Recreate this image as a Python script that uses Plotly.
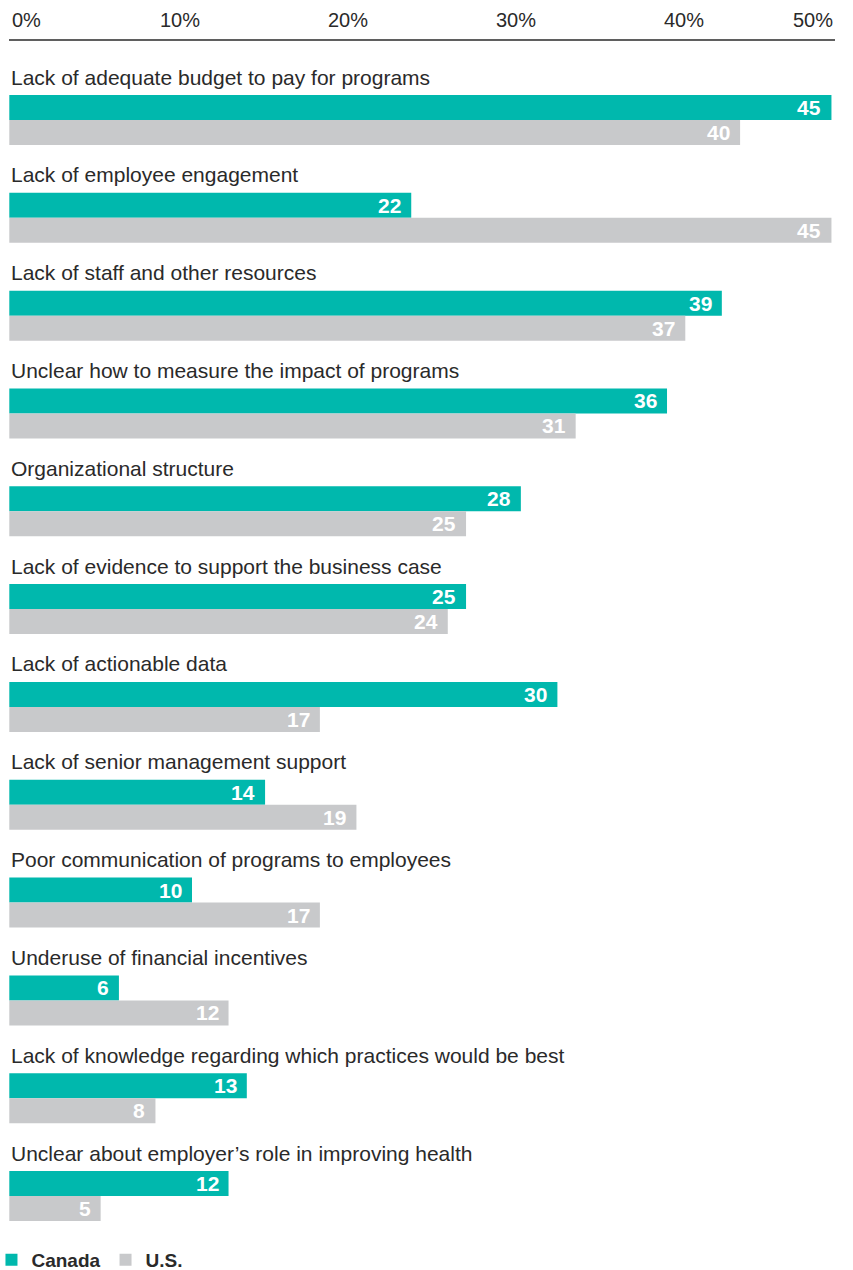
import plotly.graph_objects as go

# Barriers to workplace health programs, share of employers (%)
categories = [
    "Lack of adequate budget to pay for programs",
    "Lack of employee engagement",
    "Lack of staff and other resources",
    "Unclear how to measure the impact of programs",
    "Organizational structure",
    "Lack of evidence to support the business case",
    "Lack of actionable data",
    "Lack of senior management support",
    "Poor communication of programs to employees",
    "Underuse of financial incentives",
    "Lack of knowledge regarding which practices would be best",
    "Unclear about employer\u2019s role in improving health",
]
canada = [45, 22, 39, 36, 28, 25, 30, 14, 10, 6, 13, 12]
us = [40, 45, 37, 31, 25, 24, 17, 19, 17, 12, 8, 5]

tick_values = [0, 10, 20, 30, 40, 50]
tick_labels = ["0%", "10%", "20%", "30%", "40%", "50%"]

TEAL = "#00B8AD"
GREY = "#C8C9CB"
INK = "#2a2a2a"
FONT = "Liberation Sans, Arial, sans-serif"

W, H = 853, 1270
TOP = 40                 # header band holding the scale labels
PITCH = 97.82            # px between category groups
FIRST_CENTER = 120       # px, centre of first bar group
BAR_H = 25 / PITCH       # bar thickness in y units
X0_PX, PX_PER_UNIT = 9.3, 18.27      # bar scale
S0_PX, S_PX_PER_UNIT = 11.5, 16.8    # header scale

pos = list(range(len(categories)))

fig = go.Figure()
fig.add_trace(go.Bar(
    name="Canada", y=pos, x=canada, orientation="h",
    width=BAR_H, offset=-BAR_H, marker=dict(color=TEAL, line=dict(width=0)),
    hoverinfo="skip",
))
fig.add_trace(go.Bar(
    name="U.S.", y=pos, x=us, orientation="h",
    width=BAR_H, offset=0, marker=dict(color=GREY, line=dict(width=0)),
    hoverinfo="skip",
))

annotations = []
# category titles above each pair of bars
for i, cat in enumerate(categories):
    annotations.append(dict(
        x=8.5 / W, xref="paper", xanchor="left",
        y=i, yref="y", yanchor="middle", yshift=43,
        text=cat, showarrow=False,
        font=dict(family=FONT, size=21, color=INK),
    ))
# value labels at the end of each bar
for i in pos:
    for val, centre in ((canada[i], i - BAR_H / 2), (us[i], i + BAR_H / 2)):
        annotations.append(dict(
            x=val, xref="x", xanchor="right", xshift=-8,
            y=centre, yref="y", yanchor="middle",
            text=str(val), showarrow=False,
            font=dict(family=FONT, size=21, color="white", weight="bold"),
        ))
# percentage scale in the header
for v, lab in zip(tick_values, tick_labels):
    if v == tick_values[0]:
        anchor, shift = "left", -1.5
    elif v == tick_values[-1]:
        anchor, shift = "right", -16.5
    else:
        anchor, shift = "center", 0
    annotations.append(dict(
        x=v, xref="x2", xanchor=anchor, xshift=shift,
        y=1 + 20 / (H - TOP), yref="paper", yanchor="middle",
        text=lab, showarrow=False,
        font=dict(family=FONT, size=20, color=INK),
    ))

plot_h = H - TOP
y_top = (0 - FIRST_CENTER + TOP) / PITCH
y_bottom = (H - FIRST_CENTER) / PITCH

fig.update_layout(
    width=W, height=H,
    margin=dict(l=0, r=0, t=TOP, b=0, pad=0, autoexpand=False),
    paper_bgcolor="white", plot_bgcolor="white",
    barmode="overlay",
    showlegend=True,
    legend=dict(
        orientation="h", x=-0.01, xanchor="left",
        y=(H - 1260) / plot_h, yanchor="middle",
        font=dict(family=FONT, size=19, color=INK, weight="bold"),
        bgcolor="rgba(0,0,0,0)", itemclick=False, itemdoubleclick=False,
        traceorder="normal",
    ),
    xaxis=dict(
        range=[-X0_PX / PX_PER_UNIT, (W - X0_PX) / PX_PER_UNIT],
        visible=False, fixedrange=True,
    ),
    xaxis2=dict(
        overlaying="x", side="top",
        range=[-S0_PX / S_PX_PER_UNIT, (W - S0_PX) / S_PX_PER_UNIT],
        visible=False, fixedrange=True,
    ),
    yaxis=dict(
        range=[y_bottom, y_top], visible=False, fixedrange=True,
    ),
    annotations=annotations,
    shapes=[dict(
        type="line", xref="paper", yref="paper",
        x0=9 / W, x1=835 / W, y0=1, y1=1,
        line=dict(color=INK, width=1.5),
    )],
)

fig.write_html("out.html", config=dict(displayModeBar=False, staticPlot=True))
